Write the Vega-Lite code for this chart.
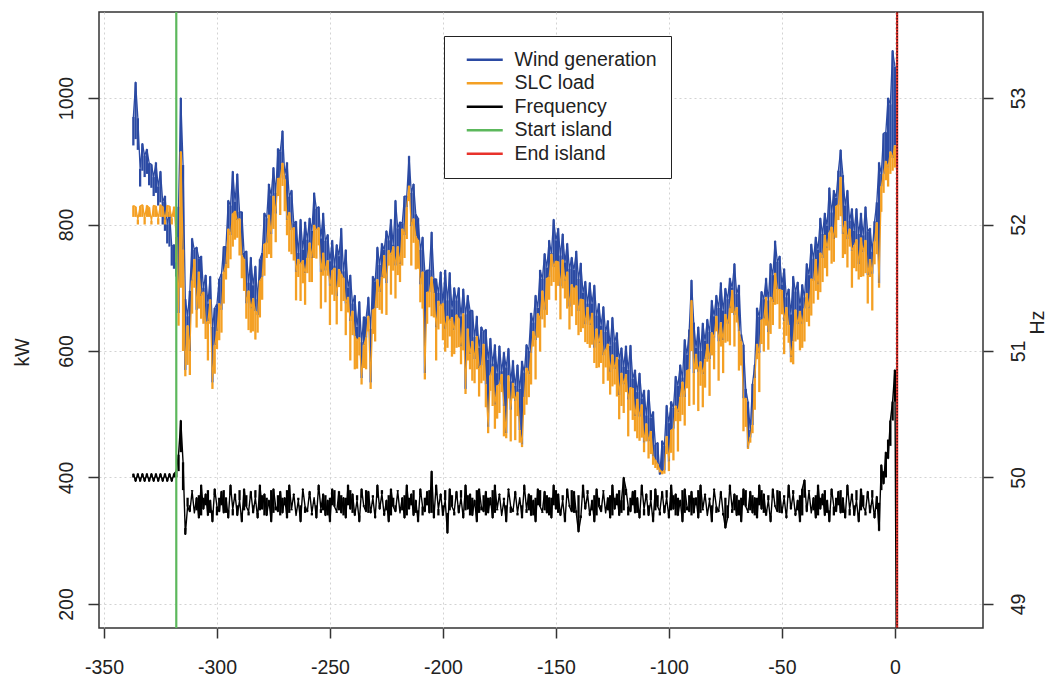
{
"$schema":"https://vega.github.io/schema/vega-lite/v6.json",
"width":884,"height":616,
"autosize":{"type":"none"},
"padding":{"left":99,"top":12,"right":64,"bottom":49},
"background":"white",
"config":{"font":"Liberation Sans","view":{"stroke":"#333333","strokeWidth":1.5}},
"data":{"values":[
{"t":-337,"w":970,"wl":925,"s":830,"sl":812,"f":50.03,"g":50.0},{"t":-336,"w":1025,"wl":935,"s":828,"sl":812,"f":49.97,"g":50.0},{"t":-335,"w":968,"wl":918,"s":808,"sl":800,"f":50.03,"g":50.0},{"t":-334,"w":888,"wl":860,"s":829,"sl":812,"f":49.97,"g":50.0},{"t":-333,"w":928,"wl":885,"s":831,"sl":812,"f":50.03,"g":50.0},
{"t":-332,"w":909,"wl":875,"s":812,"sl":800,"f":49.97,"g":50.0},{"t":-331,"w":919,"wl":880,"s":830,"sl":812,"f":50.03,"g":50.0},{"t":-330,"w":897,"wl":862,"s":827,"sl":812,"f":49.97,"g":50.0},{"t":-329,"w":895,"wl":858,"s":806,"sl":800,"f":50.03,"g":50.0},{"t":-328,"w":875,"wl":845,"s":830,"sl":812,"f":49.97,"g":50.0},
{"t":-327,"w":898,"wl":850,"s":829,"sl":812,"f":50.03,"g":50.0},{"t":-326,"w":860,"wl":830,"s":810,"sl":800,"f":49.97,"g":50.0},{"t":-325,"w":884,"wl":835,"s":831,"sl":812,"f":50.03,"g":50.0},{"t":-324,"w":836,"wl":800,"s":828,"sl":812,"f":49.97,"g":50.0},{"t":-323,"w":845,"wl":790,"s":808,"sl":800,"f":50.03,"g":50.0},
{"t":-322,"w":800,"wl":770,"s":830,"sl":812,"f":49.97,"g":50.0},{"t":-321,"w":820,"wl":765,"s":829,"sl":812,"f":50.03,"g":50.0},{"t":-320,"w":765,"wl":735,"s":810,"sl":800,"f":49.97,"g":50.0},{"t":-319,"w":768,"wl":730,"s":828,"sl":812,"f":50.03,"g":50.0},
{"t":-318,"w":718,"s":780,"sl":740,"f":50.05,"g":50.0},{"t":-317,"w":828,"s":660,"sl":640,"f":50.18,"g":50.05},{"t":-316,"w":1000,"s":915,"sl":700,"f":50.45,"g":50.2},{"t":-315,"w":894,"s":760,"sl":600,"f":50.12,"g":49.9},{"t":-314,"w":682,"s":570,"sl":560,"f":49.55,"g":49.6},
{"t":-313,"w":655,"s":640,"sl":578,"f":49.77,"g":49.84},{"t":-312,"w":695,"s":600,"sl":562,"f":49.73,"g":49.78},{"t":-311,"w":778,"s":711,"sl":659,"f":49.89,"g":49.9},{"t":-310,"w":760,"s":745,"sl":700,"f":49.72,"g":49.72},{"t":-309,"w":764,"s":665,"sl":637,"f":49.84,"g":49.74},
{"t":-308,"w":746,"s":725,"sl":667,"f":49.68,"g":49.86},{"t":-307,"w":750,"s":687,"sl":651,"f":49.94,"g":49.7},{"t":-306,"w":700,"s":693,"sl":643,"f":49.75,"g":49.84},{"t":-305,"w":720,"s":643,"sl":619,"f":49.87,"g":49.78},{"t":-304,"w":675,"s":647,"sl":585,"f":49.7,"g":49.9},
{"t":-303,"w":718,"s":681,"sl":643,"f":49.82,"g":49.72},{"t":-302,"w":638,"s":550,"sl":540,"f":49.65,"g":49.74},{"t":-301,"w":668,"s":609,"sl":564,"f":49.91,"g":49.86},{"t":-300,"w":674,"s":631,"sl":603,"f":49.77,"g":49.7},{"t":-299,"w":714,"s":675,"sl":617,"f":49.73,"g":49.84},
{"t":-298,"w":722,"s":665,"sl":629,"f":49.89,"g":49.78},{"t":-297,"w":765,"s":725,"sl":675,"f":49.72,"g":49.9},{"t":-296,"w":765,"s":737,"sl":713,"f":49.84,"g":49.72},{"t":-295,"w":838,"s":793,"sl":731,"f":49.68,"g":49.74},{"t":-294,"w":830,"s":783,"sl":745,"f":49.94,"g":49.86},
{"t":-293,"w":884,"s":817,"sl":765,"f":49.75,"g":49.7},{"t":-292,"w":836,"s":821,"sl":776,"f":49.87,"g":49.84},{"t":-291,"w":880,"s":807,"sl":779,"f":49.7,"g":49.78},{"t":-290,"w":820,"s":809,"sl":751,"f":49.82,"g":49.9},{"t":-289,"w":820,"s":751,"sl":715,"f":49.65,"g":49.72},
{"t":-288,"w":755,"s":745,"sl":695,"f":49.91,"g":49.74},{"t":-287,"w":758,"s":675,"sl":651,"f":49.77,"g":49.86},{"t":-286,"w":708,"s":695,"sl":633,"f":49.73,"g":49.7},{"t":-285,"w":748,"s":667,"sl":629,"f":49.89,"g":49.84},{"t":-284,"w":704,"s":683,"sl":631,"f":49.72,"g":49.78},
{"t":-283,"w":734,"s":663,"sl":618,"f":49.84,"g":49.9},{"t":-282,"w":682,"s":657,"sl":629,"f":49.68,"g":49.72},{"t":-281,"w":745,"s":711,"sl":653,"f":49.94,"g":49.74},{"t":-280,"w":755,"s":717,"sl":681,"f":49.75,"g":49.86},{"t":-279,"w":818,"s":769,"sl":719,"f":49.87,"g":49.7},
{"t":-278,"w":810,"s":771,"sl":747,"f":49.7,"g":49.84},{"t":-277,"w":864,"s":815,"sl":753,"f":49.82,"g":49.78},{"t":-276,"w":846,"s":785,"sl":747,"f":49.65,"g":49.9},{"t":-275,"w":890,"s":845,"sl":793,"f":49.91,"g":49.72},{"t":-274,"w":850,"s":817,"sl":772,"f":49.77,"g":49.74},
{"t":-273,"w":920,"s":873,"sl":845,"f":49.73,"g":49.86},{"t":-272,"w":915,"s":873,"sl":815,"f":49.89,"g":49.7},{"t":-271,"w":948,"s":897,"sl":861,"f":49.72,"g":49.84},{"t":-270,"w":878,"s":871,"sl":821,"f":49.84,"g":49.78},{"t":-269,"w":898,"s":807,"sl":783,"f":49.68,"g":49.9},
{"t":-268,"w":844,"s":819,"sl":757,"f":49.94,"g":49.72},{"t":-267,"w":854,"s":791,"sl":753,"f":49.75,"g":49.74},{"t":-266,"w":802,"s":795,"sl":743,"f":49.87,"g":49.86},{"t":-265,"w":805,"s":725,"sl":680,"f":49.7,"g":49.7},{"t":-264,"w":755,"s":745,"sl":717,"f":49.82,"g":49.84},
{"t":-263,"w":808,"s":737,"sl":679,"f":49.65,"g":49.78},{"t":-262,"w":760,"s":743,"sl":707,"f":49.91,"g":49.9},{"t":-261,"w":804,"s":723,"sl":673,"f":49.77,"g":49.72},{"t":-260,"w":776,"s":747,"sl":723,"f":49.73,"g":49.74},{"t":-259,"w":810,"s":771,"sl":709,"f":49.89,"g":49.86},
{"t":-258,"w":790,"s":747,"sl":709,"f":49.72,"g":49.7},{"t":-257,"w":850,"s":799,"sl":747,"f":49.84,"g":49.84},{"t":-256,"w":825,"s":791,"sl":746,"f":49.68,"g":49.78},{"t":-255,"w":828,"s":795,"sl":767,"f":49.94,"g":49.9},{"t":-254,"w":778,"s":725,"sl":667,"f":49.75,"g":49.72},
{"t":-253,"w":818,"s":755,"sl":719,"f":49.87,"g":49.74},{"t":-252,"w":774,"s":727,"sl":677,"f":49.7,"g":49.86},{"t":-251,"w":784,"s":743,"sl":719,"f":49.82,"g":49.7},{"t":-250,"w":742,"s":703,"sl":641,"f":49.65,"g":49.84},{"t":-249,"w":775,"s":727,"sl":689,"f":49.91,"g":49.78},
{"t":-248,"w":735,"s":731,"sl":679,"f":49.77,"g":49.9},{"t":-247,"w":768,"s":687,"sl":642,"f":49.73,"g":49.72},{"t":-246,"w":750,"s":729,"sl":701,"f":49.89,"g":49.74},{"t":-245,"w":794,"s":721,"sl":663,"f":49.72,"g":49.86},{"t":-244,"w":726,"s":715,"sl":679,"f":49.84,"g":49.7},
{"t":-243,"w":760,"s":675,"sl":625,"f":49.68,"g":49.84},{"t":-242,"w":700,"s":685,"sl":661,"f":49.94,"g":49.78},{"t":-241,"w":720,"s":647,"sl":585,"f":49.75,"g":49.9},{"t":-240,"w":675,"s":663,"sl":625,"f":49.87,"g":49.72},{"t":-239,"w":688,"s":623,"sl":571,"f":49.7,"g":49.74},
{"t":-238,"w":638,"s":617,"sl":572,"f":49.82,"g":49.86},{"t":-237,"w":678,"s":621,"sl":593,"f":49.65,"g":49.7},{"t":-236,"w":614,"s":557,"sl":547,"f":49.91,"g":49.84},{"t":-235,"w":654,"s":609,"sl":573,"f":49.77,"g":49.78},{"t":-234,"w":652,"s":621,"sl":571,"f":49.73,"g":49.9},
{"t":-233,"w":685,"s":655,"sl":631,"f":49.89,"g":49.72},{"t":-232,"w":635,"s":550,"sl":540,"f":49.72,"g":49.74},{"t":-231,"w":718,"s":665,"sl":627,"f":49.84,"g":49.86},{"t":-230,"w":710,"s":667,"sl":615,"f":49.68,"g":49.7},{"t":-229,"w":764,"s":713,"sl":668,"f":49.94,"g":49.84},
{"t":-228,"w":736,"s":693,"sl":665,"f":49.75,"g":49.78},{"t":-227,"w":770,"s":717,"sl":659,"f":49.87,"g":49.9},{"t":-226,"w":760,"s":751,"sl":715,"f":49.7,"g":49.72},{"t":-225,"w":790,"s":707,"sl":657,"f":49.82,"g":49.74},{"t":-224,"w":775,"s":759,"sl":735,"f":49.65,"g":49.86},
{"t":-223,"w":808,"s":751,"sl":689,"f":49.91,"g":49.7},{"t":-222,"w":768,"s":765,"sl":727,"f":49.77,"g":49.84},{"t":-221,"w":838,"s":735,"sl":683,"f":49.73,"g":49.78},{"t":-220,"w":794,"s":765,"sl":720,"f":49.89,"g":49.9},{"t":-219,"w":804,"s":737,"sl":709,"f":49.72,"g":49.72},
{"t":-218,"w":802,"s":793,"sl":735,"f":49.84,"g":49.74},{"t":-217,"w":845,"s":783,"sl":747,"f":49.68,"g":49.86},{"t":-216,"w":845,"s":827,"sl":777,"f":49.94,"g":49.7},{"t":-215,"w":908,"s":861,"sl":837,"f":49.75,"g":49.84},{"t":-214,"w":850,"s":797,"sl":735,"f":49.87,"g":49.78},
{"t":-213,"w":864,"s":809,"sl":771,"f":49.7,"g":49.9},{"t":-212,"w":816,"s":781,"sl":729,"f":49.82,"g":49.72},{"t":-211,"w":810,"s":775,"sl":730,"f":49.65,"g":49.74},{"t":-210,"w":760,"s":705,"sl":677,"f":49.91,"g":49.86},{"t":-209,"w":780,"s":725,"sl":667,"f":49.77,"g":49.7},
{"t":-208,"w":725,"s":565,"sl":555,"f":49.73,"g":49.84},{"t":-207,"w":728,"s":693,"sl":643,"f":49.89,"g":49.78},{"t":-206,"w":728,"s":693,"sl":669,"f":49.72,"g":49.9},{"t":-205,"w":788,"s":717,"sl":655,"f":50.05,"g":49.72},{"t":-204,"w":714,"s":691,"sl":653,"f":49.68,"g":49.74},
{"t":-203,"w":714,"s":637,"sl":585,"f":49.94,"g":49.86},{"t":-202,"w":692,"s":679,"sl":634,"f":49.75,"g":49.7},{"t":-201,"w":725,"s":671,"sl":643,"f":49.87,"g":49.84},{"t":-200,"w":675,"s":675,"sl":617,"f":49.7,"g":49.78},{"t":-199,"w":728,"s":635,"sl":599,"f":49.82,"g":49.9},
{"t":-198,"w":680,"s":655,"sl":605,"f":49.56,"g":49.72},{"t":-197,"w":724,"s":647,"sl":623,"f":49.91,"g":49.74},{"t":-196,"w":666,"s":653,"sl":591,"f":49.77,"g":49.86},{"t":-195,"w":700,"s":633,"sl":595,"f":49.73,"g":49.7},{"t":-194,"w":680,"s":657,"sl":605,"f":49.89,"g":49.84},
{"t":-193,"w":700,"s":651,"sl":606,"f":49.72,"g":49.78},{"t":-192,"w":655,"s":607,"sl":579,"f":49.84,"g":49.9},{"t":-191,"w":698,"s":659,"sl":601,"f":49.68,"g":49.72},{"t":-190,"w":658,"s":540,"sl":532,"f":49.94,"g":49.74},{"t":-189,"w":688,"s":635,"sl":585,"f":49.75,"g":49.86},
{"t":-188,"w":664,"s":595,"sl":571,"f":49.87,"g":49.7},{"t":-187,"w":664,"s":615,"sl":553,"f":49.7,"g":49.84},{"t":-186,"w":622,"s":587,"sl":549,"f":49.82,"g":49.78},{"t":-185,"w":655,"s":623,"sl":571,"f":49.65,"g":49.9},{"t":-184,"w":605,"s":573,"sl":528,"f":49.91,"g":49.72},
{"t":-183,"w":638,"s":577,"sl":549,"f":49.77,"g":49.74},{"t":-182,"w":630,"s":611,"sl":553,"f":49.73,"g":49.86},{"t":-181,"w":634,"s":547,"sl":511,"f":49.89,"g":49.7},{"t":-180,"w":586,"s":480,"sl":470,"f":49.72,"g":49.84},{"t":-179,"w":620,"s":561,"sl":537,"f":49.84,"g":49.78},
{"t":-178,"w":580,"s":575,"sl":513,"f":49.68,"g":49.9},{"t":-177,"w":610,"s":515,"sl":477,"f":49.94,"g":49.72},{"t":-176,"w":565,"s":545,"sl":493,"f":49.75,"g":49.74},{"t":-175,"w":608,"s":547,"sl":502,"f":49.87,"g":49.86},{"t":-174,"w":568,"s":563,"sl":535,"f":49.7,"g":49.7},
{"t":-173,"w":598,"s":513,"sl":465,"f":49.82,"g":49.84},{"t":-172,"w":574,"s":470,"sl":462,"f":49.65,"g":49.78},{"t":-171,"w":604,"s":561,"sl":525,"f":49.91,"g":49.9},{"t":-170,"w":552,"s":507,"sl":457,"f":49.77,"g":49.72},{"t":-169,"w":585,"s":549,"sl":525,"f":49.73,"g":49.74},
{"t":-168,"w":545,"s":521,"sl":459,"f":49.89,"g":49.86},{"t":-167,"w":578,"s":535,"sl":497,"f":49.72,"g":49.7},{"t":-166,"w":540,"s":475,"sl":455,"f":49.84,"g":49.84},{"t":-165,"w":584,"s":452,"sl":448,"f":49.68,"g":49.78},{"t":-164,"w":566,"s":527,"sl":499,"f":49.94,"g":49.9},
{"t":-163,"w":610,"s":573,"sl":515,"f":49.75,"g":49.72},{"t":-162,"w":600,"s":563,"sl":527,"f":49.87,"g":49.74},{"t":-161,"w":660,"s":597,"sl":547,"f":49.7,"g":49.86},{"t":-160,"w":645,"s":631,"sl":607,"f":49.82,"g":49.7},{"t":-159,"w":688,"s":617,"sl":555,"f":49.65,"g":49.84},
{"t":-158,"w":668,"s":659,"sl":621,"f":49.91,"g":49.78},{"t":-157,"w":728,"s":651,"sl":599,"f":49.77,"g":49.9},{"t":-156,"w":714,"s":695,"sl":650,"f":49.73,"g":49.72},{"t":-155,"w":754,"s":665,"sl":637,"f":49.89,"g":49.74},{"t":-154,"w":732,"s":715,"sl":657,"f":49.72,"g":49.86},
{"t":-153,"w":775,"s":717,"sl":681,"f":49.84,"g":49.7},{"t":-152,"w":755,"s":753,"sl":703,"f":49.68,"g":49.84},{"t":-151,"w":808,"s":733,"sl":709,"f":49.94,"g":49.78},{"t":-150,"w":775,"s":742,"sl":680,"f":49.75,"g":49.9},{"t":-149,"w":794,"s":741,"sl":703,"f":49.87,"g":49.72},
{"t":-148,"w":751,"s":702,"sl":650,"f":49.7,"g":49.74},{"t":-147,"w":785,"s":744,"sl":699,"f":49.82,"g":49.86},{"t":-146,"w":740,"s":711,"sl":683,"f":49.65,"g":49.7},{"t":-145,"w":770,"s":725,"sl":667,"f":49.91,"g":49.84},{"t":-144,"w":730,"s":670,"sl":634,"f":49.77,"g":49.78},
{"t":-143,"w":748,"s":705,"sl":655,"f":49.73,"g":49.9},{"t":-142,"w":728,"s":697,"sl":673,"f":49.89,"g":49.72},{"t":-141,"w":758,"s":703,"sl":641,"f":49.72,"g":49.74},{"t":-140,"w":714,"s":663,"sl":625,"f":49.57,"g":49.86},{"t":-139,"w":739,"s":682,"sl":630,"f":49.68,"g":49.7},
{"t":-138,"w":692,"s":681,"sl":636,"f":49.94,"g":49.84},{"t":-137,"w":710,"s":642,"sl":614,"f":49.75,"g":49.78},{"t":-136,"w":675,"s":669,"sl":611,"f":49.87,"g":49.9},{"t":-135,"w":708,"s":641,"sl":605,"f":49.7,"g":49.72},{"t":-134,"w":675,"s":660,"sl":610,"f":49.82,"g":49.74},
{"t":-133,"w":704,"s":605,"sl":581,"f":49.65,"g":49.86},{"t":-132,"w":656,"s":635,"sl":573,"f":49.91,"g":49.7},{"t":-131,"w":675,"s":612,"sl":574,"f":49.77,"g":49.84},{"t":-130,"w":640,"s":633,"sl":581,"f":49.73,"g":49.78},{"t":-129,"w":670,"s":593,"sl":548,"f":49.89,"g":49.9},
{"t":-128,"w":630,"s":602,"sl":574,"f":49.72,"g":49.72},{"t":-127,"w":648,"s":611,"sl":553,"f":49.84,"g":49.74},{"t":-126,"w":608,"s":567,"sl":531,"f":49.68,"g":49.86},{"t":-125,"w":653,"s":594,"sl":544,"f":49.94,"g":49.7},{"t":-124,"w":614,"s":571,"sl":547,"f":49.75,"g":49.84},
{"t":-123,"w":629,"s":590,"sl":528,"f":49.87,"g":49.78},{"t":-122,"w":587,"s":530,"sl":492,"f":49.7,"g":49.9},{"t":-121,"w":605,"s":565,"sl":513,"f":49.82,"g":49.72},{"t":-120,"w":575,"s":547,"sl":502,"f":50.0,"g":49.74},{"t":-119,"w":608,"s":563,"sl":535,"f":49.91,"g":49.86},
{"t":-118,"w":570,"s":523,"sl":465,"f":49.77,"g":49.7},{"t":-117,"w":609,"s":542,"sl":506,"f":49.73,"g":49.84},{"t":-116,"w":556,"s":541,"sl":491,"f":49.89,"g":49.78},{"t":-115,"w":570,"s":497,"sl":473,"f":49.72,"g":49.9},{"t":-114,"w":535,"s":524,"sl":462,"f":49.84,"g":49.72},
{"t":-113,"w":565,"s":496,"sl":458,"f":49.68,"g":49.74},{"t":-112,"w":525,"s":515,"sl":463,"f":49.94,"g":49.86},{"t":-111,"w":538,"s":455,"sl":440,"f":49.75,"g":49.7},{"t":-110,"w":498,"s":485,"sl":457,"f":49.87,"g":49.84},{"t":-109,"w":538,"s":457,"sl":430,"f":49.7,"g":49.78},
{"t":-108,"w":494,"s":473,"sl":437,"f":49.82,"g":49.9},{"t":-107,"w":504,"s":433,"sl":420,"f":49.65,"g":49.72},{"t":-106,"w":452,"s":427,"sl":415,"f":49.91,"g":49.74},{"t":-105,"w":455,"s":421,"sl":412,"f":49.77,"g":49.86},{"t":-104,"w":405,"s":412,"sl":408,"f":49.73,"g":49.7},
{"t":-103,"w":458,"s":409,"sl":405,"f":49.89,"g":49.84},{"t":-102,"w":450,"s":411,"sl":406,"f":49.72,"g":49.78},{"t":-101,"w":514,"s":465,"sl":437,"f":49.84,"g":49.9},{"t":-100,"w":486,"s":425,"sl":410,"f":49.68,"g":49.72},{"t":-99,"w":520,"s":475,"sl":439,"f":49.94,"g":49.74},
{"t":-98,"w":510,"s":477,"sl":427,"f":49.75,"g":49.86},{"t":-97,"w":560,"s":513,"sl":489,"f":49.87,"g":49.7},{"t":-96,"w":545,"s":503,"sl":441,"f":49.7,"g":49.84},{"t":-95,"w":578,"s":527,"sl":489,"f":49.82,"g":49.78},{"t":-94,"w":558,"s":551,"sl":499,"f":49.65,"g":49.9},
{"t":-93,"w":618,"s":527,"sl":482,"f":49.91,"g":49.72},{"t":-92,"w":594,"s":569,"sl":541,"f":49.77,"g":49.74},{"t":-91,"w":634,"s":571,"sl":513,"f":49.73,"g":49.86},{"t":-90,"w":712,"s":680,"sl":600,"f":49.89,"g":49.7},{"t":-89,"w":645,"s":565,"sl":515,"f":49.72,"g":49.84},
{"t":-88,"w":605,"s":595,"sl":571,"f":49.84,"g":49.78},{"t":-87,"w":638,"s":567,"sl":505,"f":49.68,"g":49.9},{"t":-86,"w":600,"s":583,"sl":545,"f":49.94,"g":49.72},{"t":-85,"w":644,"s":563,"sl":511,"f":49.75,"g":49.74},{"t":-84,"w":616,"s":587,"sl":542,"f":49.87,"g":49.86},
{"t":-83,"w":650,"s":611,"sl":583,"f":49.7,"g":49.7},{"t":-82,"w":630,"s":587,"sl":529,"f":49.82,"g":49.84},{"t":-81,"w":680,"s":629,"sl":593,"f":49.65,"g":49.78},{"t":-80,"w":655,"s":621,"sl":571,"f":49.91,"g":49.9},{"t":-79,"w":688,"s":655,"sl":631,"f":49.77,"g":49.72},
{"t":-78,"w":668,"s":615,"sl":553,"f":49.73,"g":49.74},{"t":-77,"w":708,"s":645,"sl":607,"f":49.89,"g":49.86},{"t":-76,"w":664,"s":617,"sl":565,"f":49.72,"g":49.7},{"t":-75,"w":699,"s":658,"sl":613,"f":49.6,"g":49.84},{"t":-74,"w":682,"s":643,"sl":615,"f":49.68,"g":49.78},
{"t":-73,"w":715,"s":667,"sl":609,"f":49.94,"g":49.9},{"t":-72,"w":700,"s":696,"sl":660,"f":49.75,"g":49.72},{"t":-71,"w":738,"s":657,"sl":607,"f":49.87,"g":49.74},{"t":-70,"w":690,"s":669,"sl":645,"f":49.7,"g":49.86},{"t":-69,"w":704,"s":631,"sl":569,"f":49.82,"g":49.7},
{"t":-68,"w":626,"s":615,"sl":577,"f":49.65,"g":49.84},{"t":-67,"w":610,"s":525,"sl":473,"f":49.91,"g":49.78},{"t":-66,"w":540,"s":525,"sl":480,"f":49.77,"g":49.9},{"t":-65,"w":520,"s":447,"sl":445,"f":49.73,"g":49.72},{"t":-64,"w":475,"s":463,"sl":455,"f":49.89,"g":49.74},
{"t":-63,"w":548,"s":483,"sl":470,"f":49.72,"g":49.86},{"t":-62,"w":578,"s":557,"sl":507,"f":49.84,"g":49.7},{"t":-61,"w":668,"s":611,"sl":587,"f":49.68,"g":49.84},{"t":-60,"w":654,"s":597,"sl":535,"f":49.94,"g":49.78},{"t":-59,"w":694,"s":649,"sl":611,"f":49.75,"g":49.9},
{"t":-58,"w":682,"s":651,"sl":599,"f":49.87,"g":49.72},{"t":-57,"w":715,"s":685,"sl":640,"f":49.7,"g":49.74},{"t":-56,"w":680,"s":630,"sl":602,"f":49.82,"g":49.86},{"t":-55,"w":738,"s":685,"sl":627,"f":49.65,"g":49.7},{"t":-54,"w":720,"s":677,"sl":641,"f":49.91,"g":49.84},
{"t":-53,"w":774,"s":723,"sl":673,"f":49.77,"g":49.78},{"t":-52,"w":741,"s":698,"sl":674,"f":49.73,"g":49.9},{"t":-51,"w":750,"s":697,"sl":635,"f":49.89,"g":49.72},{"t":-50,"w":705,"s":696,"sl":658,"f":49.72,"g":49.74},{"t":-49,"w":730,"s":647,"sl":595,"f":49.84,"g":49.86},
{"t":-48,"w":685,"s":669,"sl":624,"f":49.68,"g":49.7},{"t":-47,"w":698,"s":641,"sl":613,"f":49.94,"g":49.84},{"t":-46,"w":658,"s":590,"sl":582,"f":49.75,"g":49.78},{"t":-45,"w":718,"s":615,"sl":579,"f":49.87,"g":49.9},{"t":-44,"w":694,"s":665,"sl":615,"f":49.7,"g":49.72},
{"t":-43,"w":709,"s":642,"sl":618,"f":49.82,"g":49.74},{"t":-42,"w":672,"s":663,"sl":601,"f":49.65,"g":49.86},{"t":-41,"w":705,"s":643,"sl":605,"f":49.91,"g":49.7},{"t":-40,"w":685,"s":667,"sl":615,"f":49.98,"g":49.84},{"t":-39,"w":738,"s":691,"sl":646,"f":49.73,"g":49.78},
{"t":-38,"w":720,"s":667,"sl":639,"f":49.89,"g":49.9},{"t":-37,"w":769,"s":714,"sl":656,"f":49.72,"g":49.72},{"t":-36,"w":746,"s":711,"sl":675,"f":49.84,"g":49.74},{"t":-35,"w":780,"s":745,"sl":695,"f":49.68,"g":49.86},{"t":-34,"w":760,"s":705,"sl":681,"f":49.94,"g":49.7},
{"t":-33,"w":810,"s":755,"sl":693,"f":49.75,"g":49.84},{"t":-32,"w":785,"s":747,"sl":709,"f":49.87,"g":49.78},{"t":-31,"w":818,"s":783,"sl":731,"f":49.7,"g":49.9},{"t":-30,"w":798,"s":763,"sl":718,"f":49.82,"g":49.72},{"t":-29,"w":858,"s":787,"sl":759,"f":49.65,"g":49.74},
{"t":-28,"w":819,"s":796,"sl":738,"f":49.91,"g":49.86},{"t":-27,"w":854,"s":777,"sl":741,"f":49.77,"g":49.7},{"t":-26,"w":842,"s":829,"sl":779,"f":49.73,"g":49.84},{"t":-25,"w":885,"s":831,"sl":807,"f":49.89,"g":49.78},{"t":-24,"w":918,"s":875,"sl":813,"f":49.72,"g":49.9},
{"t":-23,"w":878,"s":785,"sl":747,"f":49.84,"g":49.72},{"t":-22,"w":830,"s":805,"sl":753,"f":49.68,"g":49.74},{"t":-21,"w":854,"s":777,"sl":732,"f":49.94,"g":49.86},{"t":-20,"w":806,"s":793,"sl":765,"f":49.75,"g":49.7},{"t":-19,"w":825,"s":758,"sl":700,"f":49.87,"g":49.84},
{"t":-18,"w":790,"s":767,"sl":731,"f":49.7,"g":49.78},{"t":-17,"w":825,"s":776,"sl":726,"f":49.82,"g":49.9},{"t":-16,"w":785,"s":737,"sl":713,"f":49.65,"g":49.72},{"t":-15,"w":818,"s":779,"sl":717,"f":49.91,"g":49.74},{"t":-14,"w":783,"s":756,"sl":718,"f":49.77,"g":49.86},
{"t":-13,"w":828,"s":775,"sl":723,"f":49.73,"g":49.7},{"t":-12,"w":789,"s":720,"sl":675,"f":49.89,"g":49.84},{"t":-11,"w":794,"s":745,"sl":717,"f":49.72,"g":49.78},{"t":-10,"w":757,"s":722,"sl":664,"f":49.84,"g":49.9},{"t":-9,"w":805,"s":773,"sl":737,"f":49.68,"g":49.72},
{"t":-8,"w":835,"s":803,"sl":753,"f":49.85,"g":49.75},{"t":-7,"w":898,"s":707,"sl":700,"f":49.58,"g":49.8},{"t":-6,"w":880,"s":860,"sl":820,"f":50.1,"g":49.9},{"t":-5,"w":944,"s":880,"sl":850,"f":49.95,"g":50.05},{"t":-4,"w":946,"s":900,"sl":870,"f":50.2,"g":50.0},
{"t":-3,"w":1000,"s":890,"sl":860,"f":50.15,"g":50.3},{"t":-2,"w":990,"s":915,"sl":880,"f":50.45,"g":50.25},{"t":-1,"w":1075,"s":905,"sl":885,"f":50.6,"g":50.45},{"t":0,"w":1050,"s":925,"sl":890,"f":50.85,"g":50.6},{"t":0.8,"f":48.0,"g":48.0}
]},
"layer":[
 {"layer":[
  {"transform":[{"filter":"datum.t >= -318 && isValid(datum.w)"}],
   "mark":{"type":"rule","strokeWidth":2.3,"clip":true},
   "encoding":{
    "x":{"field":"t","type":"quantitative","scale":{"domain":[-352.2,39],"nice":false,"zero":false},
         "axis":{"values":[-350,-300,-250,-200,-150,-100,-50,0],"title":null,"domain":false,"tickSize":10,"tickWidth":1.5,"tickColor":"#333333","labelFontSize":19.5,"labelColor":"#222222","labelPadding":29,"labelBaseline":"middle","labelExpr":"'' + datum.value","labelFlush":false,"labelOverlap":false,"grid":true,"gridColor":"#d3d3d3","gridDash":[2,3],"gridWidth":1}},
    "y":{"field":"s","type":"quantitative","scale":{"domain":[162,1136],"nice":false,"zero":false},
         "axis":{"values":[200,400,600,800,1000],"title":"kW","domain":false,"tickSize":11,"tickWidth":1.5,"tickColor":"#333333","labelFontSize":19.5,"labelColor":"#222222","labelAngle":-90,"labelAlign":"center","labelBaseline":"middle","labelPadding":22,"labelOverlap":false,"labelExpr":"'' + datum.value","grid":true,"gridColor":"#d3d3d3","gridDash":[2,3],"gridWidth":1,"titleFontSize":19.5,"titleFontWeight":"normal","titleColor":"#222222","titleAngle":-90,"titleX":-77,"titleY":340,"titleAlign":"center","titleBaseline":"middle"}},
    "y2":{"field":"w"},
    "color":{"datum":"Wind generation","type":"nominal","title":null,
         "scale":{"domain":["Wind generation","SLC load","Frequency","Start island","End island"],"range":["#2B4AA3","#F4A024","#000000","#5CB85C","#E8322B"]},
         "legend":{"title":null,"orient":"none","legendX":345,"legendY":24,"fillColor":"white","strokeColor":"#222222","padding":14,"labelFontSize":19.5,"labelFont":"Liberation Sans","labelColor":"#222222","labelLimit":300,"symbolType":"M-3,0H3","symbolSize":144,"symbolStrokeWidth":2.5,"symbolOffset":17,"labelOffset":20,"rowPadding":2.5}}
   }},
  {"transform":[{"filter":"isValid(datum.wl)"}],
   "mark":{"type":"rule","strokeWidth":2.3,"clip":true},
   "encoding":{
    "x":{"field":"t","type":"quantitative"},
    "y":{"field":"wl","type":"quantitative"},
    "y2":{"field":"w"},
    "color":{"datum":"Wind generation","type":"nominal","title":null}
   }},
  {"mark":{"type":"line","strokeWidth":1.3,"strokeJoin":"round","clip":true},
   "encoding":{
    "x":{"field":"t","type":"quantitative"},
    "y":{"field":"w","type":"quantitative"},
    "color":{"datum":"Wind generation","type":"nominal","title":null}
   }},
  {"transform":[{"filter":"isValid(datum.s)"}],
   "mark":{"type":"rule","strokeWidth":2.3,"clip":true},
   "encoding":{
    "x":{"field":"t","type":"quantitative"},
    "y":{"field":"sl","type":"quantitative"},
    "y2":{"field":"s"},
    "color":{"datum":"SLC load","type":"nominal","title":null}
   }},
  {"mark":{"type":"line","strokeWidth":1.3,"strokeJoin":"round","clip":true},
   "encoding":{
    "x":{"field":"t","type":"quantitative"},
    "y":{"field":"s","type":"quantitative"},
    "color":{"datum":"SLC load","type":"nominal","title":null}
   }}
 ]},
 {"layer":[
  {"mark":{"type":"rule","strokeWidth":2.3,"clip":true},
   "encoding":{
    "x":{"field":"t","type":"quantitative"},
    "y":{"field":"f","type":"quantitative","scale":{"domain":[48.81,53.68],"nice":false,"zero":false},
         "axis":{"orient":"right","values":[49,50,51,52,53],"title":"Hz","domain":false,"tickSize":10,"tickWidth":1.5,"tickColor":"#333333","labelFontSize":19.5,"labelColor":"#222222","labelAngle":-90,"labelAlign":"center","labelBaseline":"middle","labelPadding":25,"labelOverlap":false,"labelExpr":"'' + datum.value","grid":false,"titleFontSize":19.5,"titleFontWeight":"normal","titleColor":"#222222","titleAngle":-90,"titleX":54,"titleY":310,"titleAlign":"center","titleBaseline":"middle"}},
    "y2":{"field":"g"},
    "color":{"datum":"Frequency","type":"nominal","title":null}
   }},
  {"mark":{"type":"line","strokeWidth":1.4,"strokeJoin":"round","clip":true},
   "encoding":{
    "x":{"field":"t","type":"quantitative"},
    "y":{"field":"f","type":"quantitative"},
    "color":{"datum":"Frequency","type":"nominal","title":null}
   }}
 ]},
 {"data":{"values":[{"t":-318,"event":"Start island"},{"t":1,"event":"End island"}]},
  "mark":{"type":"rule","strokeWidth":2.2},
  "encoding":{
   "x":{"field":"t","type":"quantitative"},
   "color":{"field":"event","type":"nominal","title":null}
  }},
 {"data":{"values":[{"t":1}]},
  "mark":{"type":"rule","strokeWidth":1,"color":"#000000","strokeDash":[1.5,1.5]},
  "encoding":{"x":{"field":"t","type":"quantitative"}}}
],
"resolve":{"scale":{"y":"independent"}}
}
